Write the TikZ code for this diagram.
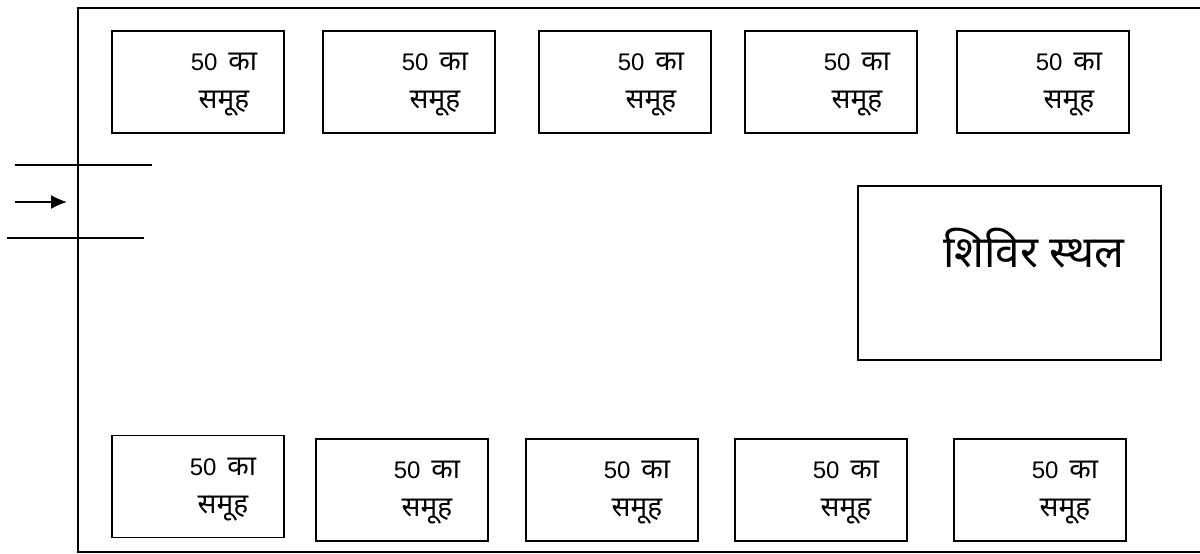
\documentclass[tikz,border=0pt]{standalone}
\usepackage{fontspec}
\setmainfont{Liberation Sans}
\newfontfamily\deva[Script=Devanagari]{Noto Sans}
\usetikzlibrary{arrows.meta}
\newcommand\grplabel{{\fontsize{24}{38}\selectfont 50}\hspace{11pt}{\deva\fontsize{28}{38}\selectfont का}\\{\deva\fontsize{28}{38}\selectfont समूह}}
\begin{document}
\begin{tikzpicture}[x=1pt,y=-1pt,
  frame/.style={line width=1.3pt},
  grp/.style={draw, line width=1.2pt, minimum width=172pt, minimum height=102pt, inner sep=0pt},
  grptext/.style={align=center, font=\fontsize{24}{38}\selectfont, inner sep=0pt},
  camp/.style={draw, line width=1.2pt, minimum width=303pt, minimum height=174pt, inner sep=0pt},
  camptext/.style={font=\deva\fontsize{44}{50}\selectfont, inner sep=0pt},
  entry/.style={line width=1.3pt}]
\useasboundingbox (0,0) rectangle (1200,554);
% outer site boundary (open to the right)
\coordinate (fr1) at (1200,8);
\coordinate (fr2) at (78,8);
\coordinate (fr3) at (78,552);
\coordinate (fr4) at (1200,552);
\draw[frame] (fr1) -- (fr2) -- (fr3) -- (fr4);
% entrance
\coordinate (e1a) at (15,165); \coordinate (e1b) at (152,165);
\coordinate (e2a) at (7,238);  \coordinate (e2b) at (144,238);
\coordinate (arA) at (15,202); \coordinate (arB) at (67,202);
\draw[entry] (e1a) -- (e1b);
\draw[entry] (e2a) -- (e2b);
\draw[entry,-{Latex[length=16pt,width=14pt]}] (arA) -- (arB);
% top row groups
\foreach \n/\cx in {1/198,2/409,3/625,4/831,5/1043}{
  \node[grp] (t\n) at (\cx,82) {};
  \node[grptext] (tt\n) at ([xshift=26pt,yshift=-3pt]t\n.center) {\grplabel};
}
% bottom row groups
\node[grp] (b1) at (198,486.5) {};
\foreach \n/\cx in {2/402,3/612,4/821,5/1040}{
  \node[grp] (b\n) at (\cx,490) {};
}
\foreach \n in {1,...,5}{
  \node[grptext] (bt\n) at ([xshift=25pt,yshift=-3pt]b\n.center) {\grplabel};
}
% camp site
\node[camp] (cs) at (1009.5,273) {};
\node[camptext] (cst) at ([xshift=24pt,yshift=25pt]cs.center) {शिविर स्थल};
\end{tikzpicture}
\end{document}
